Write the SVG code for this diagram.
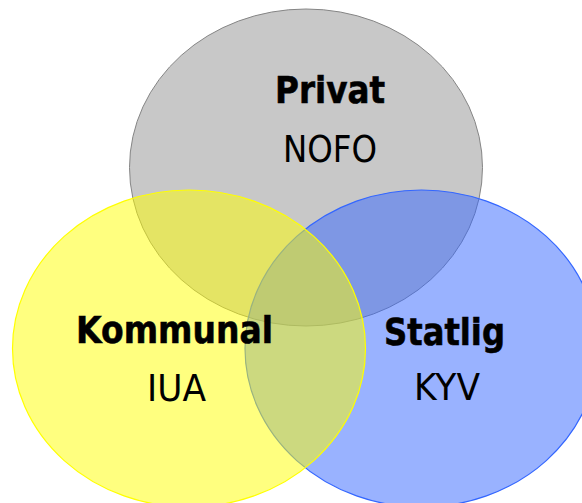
<svg xmlns="http://www.w3.org/2000/svg" width="582" height="503" viewBox="0 0 582 503">
  <style>
    .title { font-family: "DejaVu Sans", Verdana, sans-serif; font-weight: bold; font-size: 38px; fill: #000; stroke: #000; stroke-width: 0.6px; text-anchor: middle; }
    .sub { font-family: "DejaVu Sans", Verdana, sans-serif; font-size: 37px; fill: #000; text-anchor: middle; }
  </style>
  <rect width="582" height="503" fill="#ffffff"/>
  <g id="privat">
    <ellipse cx="306" cy="167.5" rx="176.5" ry="158.5" fill="#c8c8c8" stroke="#858585" stroke-width="1"/>
  </g>
  <g id="statlig">
    <ellipse cx="421.5" cy="348.5" rx="176.5" ry="158.5" fill="#3366ff" fill-opacity="0.5" stroke="#3366ff" stroke-width="1.2"/>
  </g>
  <g id="kommunal">
    <ellipse cx="189" cy="348.5" rx="176.5" ry="158.5" fill="#ffff00" fill-opacity="0.5" stroke="#ffff00" stroke-width="1.2"/>
  </g>
  <g id="labels">
    <text class="title" x="330" y="103.3" textLength="110" lengthAdjust="spacingAndGlyphs">Privat</text>
    <text class="sub" x="330" y="161.7" textLength="94" lengthAdjust="spacingAndGlyphs">NOFO</text>
    <text class="title" x="174.5" y="343.3" textLength="197" lengthAdjust="spacingAndGlyphs">Kommunal</text>
    <text class="sub" x="176.5" y="400.7" textLength="59" lengthAdjust="spacingAndGlyphs">IUA</text>
    <text class="title" x="444.5" y="344.5" textLength="121" lengthAdjust="spacingAndGlyphs">Statlig</text>
    <text class="sub" x="447" y="399.5" textLength="66" lengthAdjust="spacingAndGlyphs">KYV</text>
  </g>
</svg>
